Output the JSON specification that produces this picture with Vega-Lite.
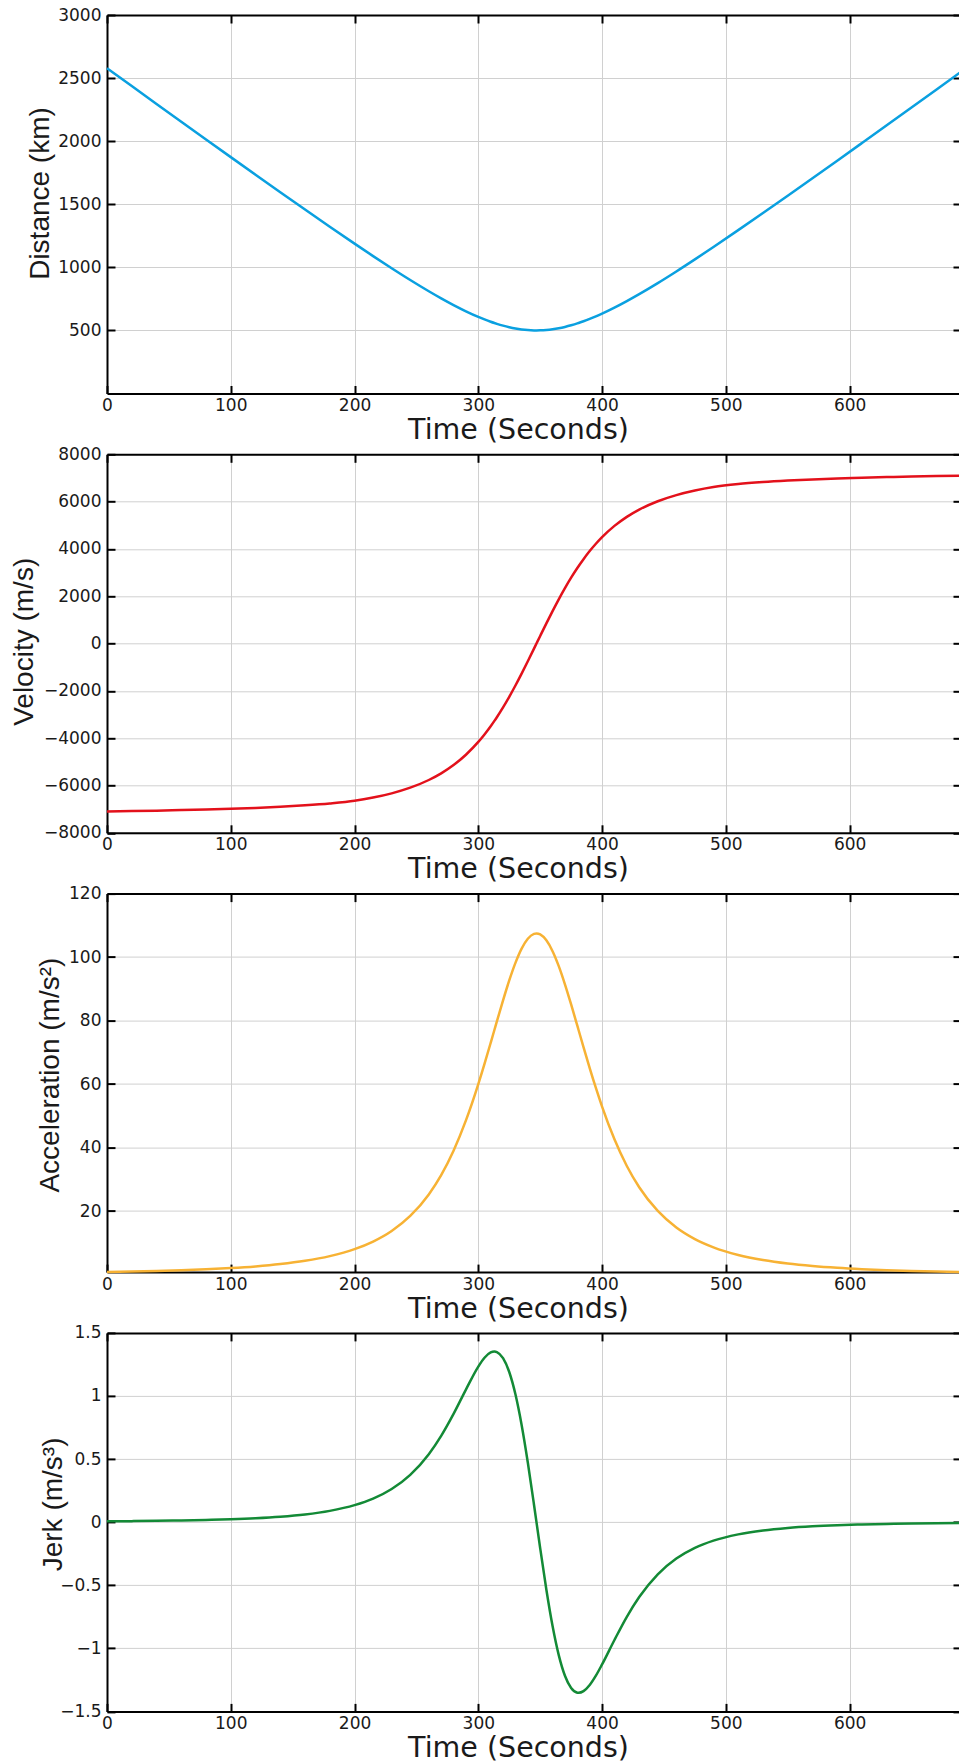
{
  "$schema": "https://vega.github.io/schema/vega-lite/v6.json",
  "autosize": {"type": "none"},
  "padding": {"left": 107, "top": 15, "right": 852, "bottom": 1748},
  "background": "white",
  "data": {"values": [
    {"t":0,"d":2578.3,"v":-7095,"a":0.77,"j":0.0064},
    {"t":20,"d":2436.5,"v":-7081,"a":0.92,"j":0.0081},
    {"t":40,"d":2295.1,"v":-7063,"a":1.10,"j":0.0102},
    {"t":60,"d":2154.0,"v":-7041,"a":1.33,"j":0.0132},
    {"t":80,"d":2013.4,"v":-7016,"a":1.63,"j":0.0172},
    {"t":100,"d":1873.4,"v":-6985,"a":2.03,"j":0.0229},
    {"t":120,"d":1734.0,"v":-6948,"a":2.56,"j":0.0311},
    {"t":140,"d":1595.6,"v":-6901,"a":3.29,"j":0.0431},
    {"t":160,"d":1458.2,"v":-6840,"a":4.32,"j":0.0612},
    {"t":180,"d":1322.1,"v":-6761,"a":5.81,"j":0.0895},
    {"t":200,"d":1187.9,"v":-6649,"a":8.01,"j":0.1346},
    {"t":215,"d":1089.1,"v":-6512,"a":10.40,"j":0.1865},
    {"t":230,"d":992.7,"v":-6332,"a":13.73,"j":0.2628},
    {"t":245,"d":899.4,"v":-6093,"a":18.46,"j":0.3752},
    {"t":260,"d":810.4,"v":-5768,"a":25.24,"j":0.5390},
    {"t":270,"d":754.0,"v":-5487,"a":31.33,"j":0.6840},
    {"t":280,"d":700.9,"v":-5136,"a":39.02,"j":0.8579},
    {"t":290,"d":651.6,"v":-4700,"a":48.56,"j":1.0507},
    {"t":300,"d":607.2,"v":-4159,"a":60.00,"j":1.2329},
    {"t":305,"d":587.2,"v":-3843,"a":66.35,"j":1.3028},
    {"t":310,"d":568.8,"v":-3495,"a":72.99,"j":1.3453},
    {"t":313,"d":558.7,"v":-3270,"a":77.04,"j":1.3527},
    {"t":315,"d":552.3,"v":-3113,"a":79.74,"j":1.3484},
    {"t":320,"d":537.7,"v":-2698,"a":86.38,"j":1.3001},
    {"t":325,"d":525.4,"v":-2250,"a":92.64,"j":1.1902},
    {"t":330,"d":515.3,"v":-1773,"a":98.17,"j":1.0131},
    {"t":335,"d":507.7,"v":-1270,"a":102.66,"j":0.7704},
    {"t":340,"d":502.6,"v":-748,"a":105.79,"j":0.4724},
    {"t":345,"d":500.2,"v":-215,"a":107.32,"j":0.1383},
    {"t":347,"d":500.0,"v":0,"a":107.46,"j":0},
    {"t":350,"d":500.5,"v":322,"a":107.15,"j":-0.2069},
    {"t":355,"d":503.4,"v":854,"a":105.28,"j":-0.5357},
    {"t":360,"d":509.0,"v":1372,"a":101.86,"j":-0.8238},
    {"t":365,"d":517.1,"v":1870,"a":97.14,"j":-1.0539},
    {"t":370,"d":527.7,"v":2342,"a":91.43,"j":-1.2174},
    {"t":375,"d":540.5,"v":2783,"a":85.08,"j":-1.3144},
    {"t":380,"d":555.4,"v":3192,"a":78.39,"j":-1.3515},
    {"t":381,"d":558.7,"v":3270,"a":77.04,"j":-1.3527},
    {"t":385,"d":572.4,"v":3567,"a":71.64,"j":-1.3395},
    {"t":390,"d":591.1,"v":3909,"a":65.05,"j":-1.2907},
    {"t":395,"d":611.4,"v":4218,"a":58.78,"j":-1.2166},
    {"t":400,"d":633.2,"v":4497,"a":52.91,"j":-1.1275},
    {"t":410,"d":680.6,"v":4973,"a":42.60,"j":-0.9339},
    {"t":420,"d":732.3,"v":5356,"a":34.20,"j":-0.7503},
    {"t":430,"d":787.5,"v":5663,"a":27.51,"j":-0.5934},
    {"t":445,"d":875.2,"v":6016,"a":20.04,"j":-0.4132},
    {"t":460,"d":967.5,"v":6275,"a":14.83,"j":-0.2886},
    {"t":475,"d":1063.2,"v":6469,"a":11.18,"j":-0.2040},
    {"t":490,"d":1161.3,"v":6616,"a":8.58,"j":-0.1466},
    {"t":510,"d":1295.1,"v":6742,"a":6.18,"j":-0.0968},
    {"t":530,"d":1430.8,"v":6826,"a":4.58,"j":-0.0659},
    {"t":550,"d":1568.0,"v":6889,"a":3.47,"j":-0.0461},
    {"t":570,"d":1706.3,"v":6939,"a":2.69,"j":-0.0331},
    {"t":590,"d":1845.4,"v":6978,"a":2.12,"j":-0.0243},
    {"t":610,"d":1985.4,"v":7010,"a":1.70,"j":-0.0182},
    {"t":630,"d":2125.8,"v":7037,"a":1.38,"j":-0.0139},
    {"t":650,"d":2266.8,"v":7059,"a":1.14,"j":-0.0107},
    {"t":670,"d":2408.2,"v":7078,"a":0.95,"j":-0.0084},
    {"t":690,"d":2549.9,"v":7093,"a":0.80,"j":-0.0067}
  ]},
  "bounds": "flush",
  "spacing": 60.3,
  "vconcat": [
    {
      "width": 854, "height": 378.5,
      "layer": [
        {"mark": {"type": "line", "color": "#0aa0e0", "strokeWidth": 2.5, "interpolate": "monotone"},
         "encoding": {
           "x": {"field": "t", "type": "quantitative", "scale": {"domain": [0, 690], "nice": false}, "axis": {"orient": "bottom", "title": "Time (Seconds)", "values": [0,100,200,300,400,500,600]}},
           "y": {"field": "d", "type": "quantitative", "scale": {"domain": [0, 3000], "nice": false, "zero": false}, "axis": {"orient": "left", "title": "Distance (km)", "titlePadding": 3.6, "titleY": 178, "values": [500,1000,1500,2000,2500,3000]}}
         }},
        {"mark": {"type": "line", "opacity": 0},
         "encoding": {
           "x": {"field": "t", "type": "quantitative", "axis": {"orient": "top", "labels": false, "title": null, "grid": false, "values": [0,100,200,300,400,500,600]}},
           "y": {"field": "d", "type": "quantitative", "axis": {"orient": "right", "labels": false, "title": null, "grid": false, "values": [500,1000,1500,2000,2500,3000]}}
         }}
      ],
      "resolve": {"axis": {"x": "independent", "y": "independent"}}
    },
    {
      "width": 854, "height": 378.5,
      "layer": [
        {"mark": {"type": "line", "color": "#e3111b", "strokeWidth": 2.5, "interpolate": "monotone"},
         "encoding": {
           "x": {"field": "t", "type": "quantitative", "scale": {"domain": [0, 690], "nice": false}, "axis": {"orient": "bottom", "title": "Time (Seconds)", "values": [0,100,200,300,400,500,600]}},
           "y": {"field": "v", "type": "quantitative", "scale": {"domain": [-8000, 8000], "nice": false, "zero": false}, "axis": {"orient": "left", "title": "Velocity (m/s)", "titlePadding": 5, "titleY": 187, "values": [-8000,-6000,-4000,-2000,0,2000,4000,6000,8000]}}
         }},
        {"mark": {"type": "line", "opacity": 0},
         "encoding": {
           "x": {"field": "t", "type": "quantitative", "axis": {"orient": "top", "labels": false, "title": null, "grid": false, "values": [0,100,200,300,400,500,600]}},
           "y": {"field": "v", "type": "quantitative", "axis": {"orient": "right", "labels": false, "title": null, "grid": false, "values": [-8000,-6000,-4000,-2000,0,2000,4000,6000,8000]}}
         }}
      ],
      "resolve": {"axis": {"x": "independent", "y": "independent"}}
    },
    {
      "width": 854, "height": 378.5,
      "layer": [
        {"mark": {"type": "line", "color": "#f7b234", "strokeWidth": 2.5, "interpolate": "monotone"},
         "encoding": {
           "x": {"field": "t", "type": "quantitative", "scale": {"domain": [0, 690], "nice": false}, "axis": {"orient": "bottom", "title": "Time (Seconds)", "values": [0,100,200,300,400,500,600]}},
           "y": {"field": "a", "type": "quantitative", "scale": {"domain": [0.77, 120], "nice": false, "zero": false}, "axis": {"orient": "left", "title": "Acceleration (m/s²)", "titlePadding": 4, "titleY": 181, "values": [20,40,60,80,100,120]}}
         }},
        {"mark": {"type": "line", "opacity": 0},
         "encoding": {
           "x": {"field": "t", "type": "quantitative", "axis": {"orient": "top", "labels": false, "title": null, "grid": false, "values": [0,100,200,300,400,500,600]}},
           "y": {"field": "a", "type": "quantitative", "axis": {"orient": "right", "labels": false, "title": null, "grid": false, "values": [20,40,60,80,100,120]}}
         }}
      ],
      "resolve": {"axis": {"x": "independent", "y": "independent"}}
    },
    {
      "width": 854, "height": 378.5,
      "layer": [
        {"mark": {"type": "line", "color": "#138a36", "strokeWidth": 2.5, "interpolate": "monotone"},
         "encoding": {
           "x": {"field": "t", "type": "quantitative", "scale": {"domain": [0, 690], "nice": false}, "axis": {"orient": "bottom", "title": "Time (Seconds)", "values": [0,100,200,300,400,500,600]}},
           "y": {"field": "j", "type": "quantitative", "scale": {"domain": [-1.5, 1.5], "nice": false, "zero": false}, "axis": {"orient": "left", "title": "Jerk (m/s³)", "format": "~g", "titlePadding": -8, "titleY": 171, "values": [-1.5,-1,-0.5,0,0.5,1,1.5]}}
         }},
        {"mark": {"type": "line", "opacity": 0},
         "encoding": {
           "x": {"field": "t", "type": "quantitative", "axis": {"orient": "top", "labels": false, "title": null, "grid": false, "values": [0,100,200,300,400,500,600]}},
           "y": {"field": "j", "type": "quantitative", "axis": {"orient": "right", "labels": false, "title": null, "grid": false, "values": [-1.5,-1,-0.5,0,0.5,1,1.5]}}
         }}
      ],
      "resolve": {"axis": {"x": "independent", "y": "independent"}}
    }
  ],
  "config": {
    "view": {"stroke": null},
    "axis": {
      "format": "d",
      "labelFont": "DejaVu Sans", "labelFontSize": 17, "labelColor": "#1a1a1a",
      "titleFontWeight": "normal", "titleColor": "#1a1a1a",
      "gridColor": "#d0d0d0", "gridWidth": 1, "gridOpacity": 1,
      "domain": true, "domainColor": "black", "domainWidth": 2,
      "ticks": true, "tickColor": "black", "tickWidth": 2, "tickSize": -8,
      "labelPadding": 12, "titlePadding": 2
    },
    "axisX": {"labelFlush": false, "titleFont": "DejaVu Sans", "titleFontSize": 28.5, "titleX": 411, "titleAlign": "center"},
    "axisY": {"labelPadding": 14, "titleFont": "Liberation Sans", "titleFontSize": 28}
  }
}
